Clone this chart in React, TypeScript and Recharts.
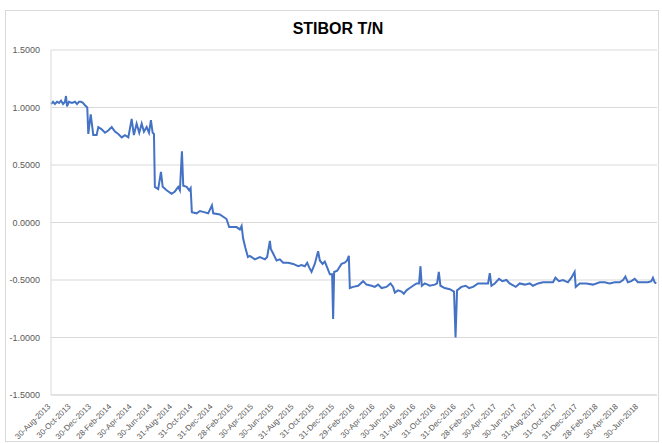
import React from 'react';
import { LineChart, Line, XAxis, YAxis, CartesianGrid } from 'recharts';

// months elapsed since 30-Aug-2013
const months = [
  0, 0.2, 0.39, 0.59, 0.79, 0.99, 1.19, 1.38, 1.48, 1.58, 1.77, 2.07, 2.37, 2.57, 2.76, 2.96, 3.15, 3.35,
  3.58, 3.68, 3.92, 4.17, 4.5, 4.67, 5.0, 5.33, 5.65, 5.99, 6.31, 6.64, 6.98, 7.3, 7.63, 7.96, 8.18,
  8.45, 8.71, 8.95, 9.17, 9.44, 9.67, 9.86, 10.03, 10.16, 10.25, 10.58, 10.85, 11.02, 11.41, 11.9, 12.23,
  12.55, 12.72, 12.92, 13.05, 13.39, 13.63, 13.78, 13.9, 14.37, 14.7, 15.09, 15.51, 15.88, 16.01,
  16.66, 17.32, 17.58, 18.31, 18.64, 18.81, 18.96, 19.18, 19.43, 19.62, 20.12, 20.61, 21.11, 21.33, 21.6,
  21.69, 21.92, 22.26, 22.58, 22.91, 23.4, 23.9, 24.39, 24.72, 25.05, 25.28, 25.48, 25.71, 26.03,
  26.36, 26.53, 26.8, 27.02, 27.25, 27.52, 27.74, 27.84, 27.94, 28.24, 28.67, 28.99, 29.22, 29.39, 29.49,
  29.82, 30.31, 30.8, 31.13, 31.63, 31.95, 32.28, 32.62, 33.1, 33.5, 33.76, 33.93, 34.25, 34.59,
  34.81, 35.08, 35.4, 35.73, 36.07, 36.32, 36.46, 36.59, 36.89, 37.38, 37.87, 38.1, 38.27, 38.43,
  38.85, 39.35, 39.77, 39.92, 40.07, 40.5, 40.92, 41.26, 41.65, 42.14, 42.64, 43.13, 43.3, 43.46,
  43.79, 44.21, 44.54, 44.94, 45.26, 45.86, 46.25, 46.75, 47.24, 47.56, 48.06, 48.55, 49.05, 49.54,
  49.78, 50.13, 50.52, 51.01, 51.35, 51.67, 51.78, 52.17, 52.83, 53.48, 54.15, 54.63, 55.13, 55.62,
  56.12, 56.45, 56.68, 56.93, 57.27, 57.6, 57.92, 58.41, 58.91, 59.24, 59.4, 59.57, 59.73,
];

const rates = [
  1.03, 1.05, 1.03, 1.05, 1.04, 1.06, 1.03, 1.05, 1.1, 1.01, 1.05, 1.04, 1.05, 1.03, 1.05, 1.05, 1.04, 1.02,
  1.0, 0.77, 0.94, 0.76, 0.76, 0.83, 0.81, 0.78, 0.8, 0.83, 0.79, 0.77, 0.74, 0.76, 0.74, 0.9, 0.76,
  0.86, 0.78, 0.86, 0.79, 0.83, 0.78, 0.89, 0.78, 0.77, 0.31, 0.29, 0.44, 0.31, 0.28, 0.25, 0.27,
  0.31, 0.28, 0.62, 0.32, 0.31, 0.28, 0.3, 0.09, 0.08, 0.1, 0.09, 0.08, 0.15, 0.08,
  0.07, 0.03, -0.04, -0.04, -0.06, -0.03, -0.14, -0.22, -0.3, -0.29, -0.32, -0.3, -0.32, -0.3, -0.16,
  -0.23, -0.27, -0.33, -0.32, -0.35, -0.35, -0.36, -0.38, -0.37, -0.38, -0.35, -0.39, -0.43, -0.36,
  -0.25, -0.33, -0.36, -0.34, -0.39, -0.45, -0.45, -0.84, -0.43, -0.42, -0.36, -0.35, -0.33, -0.29, -0.57,
  -0.56, -0.55, -0.51, -0.54, -0.55, -0.56, -0.54, -0.57, -0.56, -0.53, -0.56, -0.61, -0.59, -0.6,
  -0.62, -0.59, -0.57, -0.55, -0.53, -0.53, -0.38, -0.55, -0.53, -0.55, -0.54, -0.53, -0.43, -0.55,
  -0.57, -0.58, -0.6, -1.0, -0.59, -0.56, -0.55, -0.57, -0.56, -0.53, -0.53, -0.53, -0.44, -0.55,
  -0.53, -0.49, -0.51, -0.5, -0.53, -0.56, -0.53, -0.54, -0.53, -0.55, -0.53, -0.52, -0.52, -0.52,
  -0.48, -0.51, -0.5, -0.52, -0.48, -0.43, -0.56, -0.53, -0.53, -0.54, -0.52, -0.52, -0.53, -0.52,
  -0.52, -0.5, -0.47, -0.52, -0.51, -0.49, -0.52, -0.52, -0.52, -0.51, -0.48, -0.52, -0.53,
];

const tickMonths = [
  0, 2, 4, 6, 8, 10, 12, 14, 16, 18, 20, 22, 24, 26, 28, 30, 32, 34, 36, 38, 40, 42, 44, 46, 48, 50, 52, 54, 56, 58,
];
const tickLabels = [
  '30-Aug-2013', '30-Oct-2013', '30-Dec-2013', '28-Feb-2014', '30-Apr-2014', '30-Jun-2014',
  '31-Aug-2014', '31-Oct-2014', '31-Dec-2014', '28-Feb-2015', '30-Apr-2015', '30-Jun-2015',
  '31-Aug-2015', '31-Oct-2015', '31-Dec-2015', '29-Feb-2016', '30-Apr-2016', '30-Jun-2016',
  '31-Aug-2016', '31-Oct-2016', '31-Dec-2016', '28-Feb-2017', '30-Apr-2017', '30-Jun-2017',
  '31-Aug-2017', '31-Oct-2017', '31-Dec-2017', '28-Feb-2018', '30-Apr-2018', '30-Jun-2018',
];
const yTicks = [-1.5, -1, -0.5, 0, 0.5, 1, 1.5];

const data = months.map((m, i) => ({ m, rate: rates[i] }));

const DateTick = (props: any) => {
  const { x, y, payload } = props;
  const idx = tickMonths.indexOf(payload.value);
  const tx = x;
  const ty = y + 8;
  return (
    <text
      x={tx}
      y={ty}
      transform={`rotate(-45, ${tx}, ${ty})`}
      textAnchor="end"
      fontSize={8}
      fill="#595959"
      fontFamily="'Liberation Sans', Arial, sans-serif"
    >
      {tickLabels[idx]}
    </text>
  );
};

export default function App() {
  return (
    <div style={{ position: 'absolute', left: 0, top: 0, width: 662, height: 443, background: '#fff' }}>
      <div
        style={{
          position: 'absolute',
          left: 5,
          top: 10,
          width: 654,
          height: 432,
          border: '1px solid #d9d9d9',
          boxSizing: 'border-box',
        }}
      />
      <div
        style={{
          position: 'absolute',
          left: 0,
          top: 20,
          width: 676,
          textAlign: 'center',
          fontFamily: "'Liberation Sans', Arial, sans-serif",
          fontWeight: 'bold',
          fontSize: 16,
          color: '#000',
        }}
      >
        STIBOR T/N
      </div>
      <div style={{ position: 'absolute', left: 0, top: 0 }}>
        <LineChart width={662} height={443} data={data} margin={{ top: 50, right: 5, left: 0, bottom: 0 }}>
          <CartesianGrid vertical={false} stroke="#d9d9d9" strokeWidth={1} />
          <XAxis
            dataKey="m"
            type="number"
            domain={[0, 59.8]}
            ticks={tickMonths}
            interval={0}
            height={48}
            tick={<DateTick />}
            tickLine={false}
            tickSize={2}
            stroke="#d9d9d9"
          />
          <YAxis
            type="number"
            domain={[-1.5, 1.5]}
            ticks={yTicks}
            width={51}
            tickFormatter={(v: number) => v.toFixed(4)}
            tick={{ fontSize: 9, fill: '#595959', fontFamily: "'Liberation Sans', Arial, sans-serif" }}
            tickLine={false}
            stroke="#d9d9d9"
            tickMargin={5}
          />
          <Line
            type="linear"
            dataKey="rate"
            stroke="#4472C4"
            strokeWidth={2}
            dot={false}
            isAnimationActive={false}
          />
        </LineChart>
      </div>
    </div>
  );
}
